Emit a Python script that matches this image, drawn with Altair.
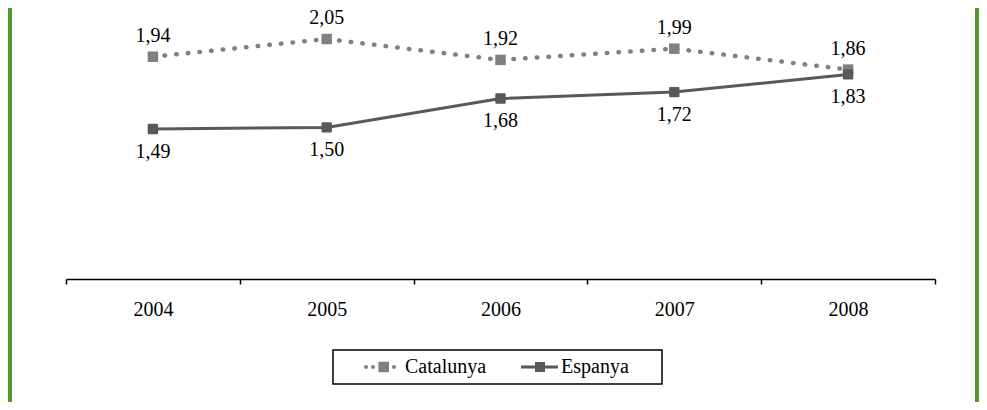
import altair as alt
import pandas as pd

years = ["2004", "2005", "2006", "2007", "2008"]
catalunya = [1.94, 2.05, 1.92, 1.99, 1.86]
espanya = [1.49, 1.50, 1.68, 1.72, 1.83]
series_names = ["Catalunya", "Espanya"]

rows = []
for y, v in zip(years, catalunya):
    rows.append({"year": y, "series": "Catalunya", "value": v})
for y, v in zip(years, espanya):
    rows.append({"year": y, "series": "Espanya", "value": v})
df = pd.DataFrame(rows)

CAT_COLOR = "#808080"
ESP_COLOR = "#595959"
GREEN = "#53982b"
FONT = "Liberation Serif"

x_enc = alt.X(
    "year:O",
    scale=alt.Scale(type="band", paddingInner=0, paddingOuter=0, domain=years),
    axis=alt.Axis(
        title=None, labelAngle=0, tickBand="extent", domainColor="black",
        domainWidth=1.5, tickColor="black", tickWidth=1.5, tickSize=5,
        labelFont=FONT, labelFontSize=20, labelColor="black", labelPadding=15,
        grid=False,
    ),
)
y_enc = alt.Y("value:Q", scale=alt.Scale(domain=[0.557, 2.243], nice=False, zero=False), axis=None)

base = alt.Chart(df).encode(x=x_enc, y=y_enc)

cat_line = base.transform_filter(alt.datum.series == "Catalunya").mark_line(
    color=CAT_COLOR, strokeWidth=4.5, strokeDash=[0.5, 11.2], strokeCap="round"
)
esp_line = base.transform_filter(alt.datum.series == "Espanya").mark_line(
    color=ESP_COLOR, strokeWidth=3
)
cat_pts = base.transform_filter(alt.datum.series == "Catalunya").mark_square(
    color=CAT_COLOR, size=110, opacity=1
)
esp_pts = base.transform_filter(alt.datum.series == "Espanya").mark_square(
    color=ESP_COLOR, size=70, opacity=1, stroke=ESP_COLOR, strokeWidth=2, strokeJoin="round"
)

label_calc = "replace(format(datum.value, '.2f'), '.', ',')"
cat_txt = base.transform_filter(alt.datum.series == "Catalunya").transform_calculate(
    label=label_calc
).mark_text(font=FONT, fontSize=20, color="black", baseline="middle", dy=-21).encode(text="label:N")
esp_txt = base.transform_filter(alt.datum.series == "Espanya").transform_calculate(
    label=label_calc
).mark_text(font=FONT, fontSize=20, color="black", baseline="middle", dy=23).encode(text="label:N")

# legend symbols (units: 10px); the lone "M14.9,0Z" only widens the legend frame
cat_path = (
    "M1.4,0a0.2,0.2 0 1,0 0.4,0a0.2,0.2 0 1,0 -0.4,0Z "
    "M2.1,0a0.2,0.2 0 1,0 0.4,0a0.2,0.2 0 1,0 -0.4,0Z "
    "M2.84,-0.53H3.9V0.53H2.84Z "
    "M4.2,0a0.2,0.2 0 1,0 0.4,0a0.2,0.2 0 1,0 -0.4,0Z"
)
esp_path = "M1.5,-0.15H5.2V0.15H1.5Z M2.9,-0.5H3.9V0.5H2.9Z M14.9,0Z"

legend = alt.Legend(
    title=None, orient="none", legendX=267, legendY=342, direction="horizontal",
    symbolSize=400, symbolStrokeWidth=0, symbolOpacity=1,
    labelFont=FONT, labelFontSize=20, labelColor="black", labelOffset=45,
    columnPadding=9, padding=7, strokeColor="black",
)
legend_layer = base.mark_point(filled=True, opacity=0).encode(
    color=alt.Color("series:N", scale=alt.Scale(domain=series_names, range=[CAT_COLOR, ESP_COLOR]), legend=legend),
    shape=alt.Shape("series:N", scale=alt.Scale(domain=series_names, range=[cat_path, esp_path]), legend=legend),
)

frame = alt.Chart(alt.Data(values=[{"a": 1}, {"a": 2}])).transform_calculate(
    px="datum.a == 1 ? -56 : 911"
).mark_rule(color=GREEN, strokeWidth=4).encode(
    x=alt.X("px:Q", scale=None), y=alt.value(0), y2=alt.value(394)
)

chart = alt.layer(
    frame, cat_line, esp_line, cat_pts, esp_pts, cat_txt, esp_txt, legend_layer
).properties(
    width=869, height=271,
    autosize=alt.AutoSizeParams(type="none"),
    padding={"left": 58, "top": 0, "right": 44, "bottom": 123},
).configure_view(stroke=None).configure_legend(strokeWidth=1.5)

chart.save("out.html", embed_options={"renderer": "svg", "actions": False})
